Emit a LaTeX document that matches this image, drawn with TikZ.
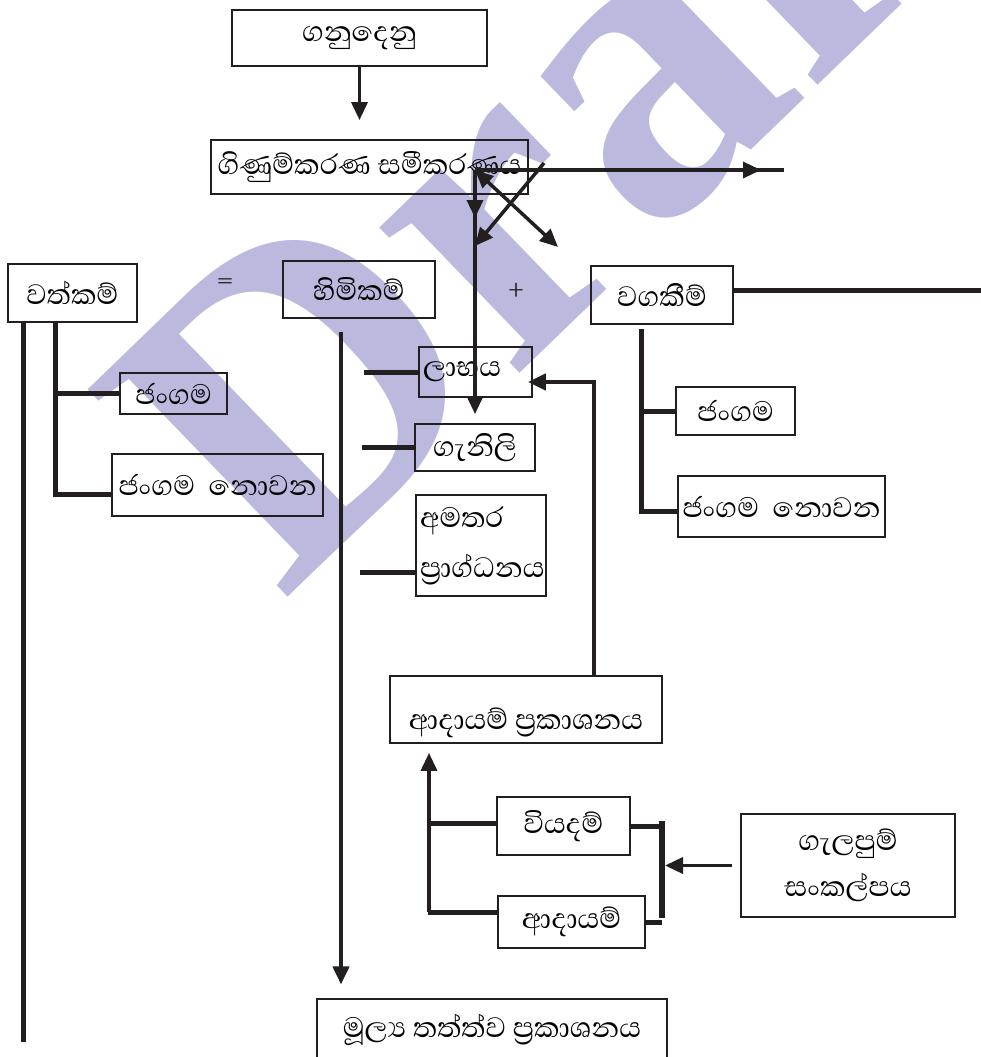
\documentclass[tikz,border=0pt]{standalone}
\usepackage{fontspec}
\setmainfont[Script=Sinhala]{Abhaya Libre}
\newfontfamily\wmfont{Liberation Serif}
\usetikzlibrary{arrows.meta}
\definecolor{ink}{RGB}{35,31,32}
\definecolor{wmark}{RGB}{187,185,221}
\tikzset{
box/.style={draw=ink, line width=1.8pt, inner xsep=4pt, inner ysep=2pt, font=\fontsize{36}{46}\selectfont},
thinbox/.style={box, line width=1.1pt},
leftbox/.style={box, align=left, text width=#1},
arr/.style={draw=ink, line width=3.5pt, -{Triangle[length=18pt,width=16pt]}},
arrs/.style={draw=ink, line width=3.5pt, {Triangle[length=18pt,width=16pt]}-{Triangle[length=18pt,width=16pt]}},
wire/.style={draw=ink, line width=3.5pt},
stub/.style={draw=ink, line width=5pt},
sign/.style={font=\fontsize{36}{46}\selectfont, text=ink}
}
\begin{document}
\begin{tikzpicture}[x=1pt, y=-1pt]
  \useasboundingbox (0,0) rectangle (981,1057);
  \clip (0,0) rectangle (981,1057);
  \node[text=wmark, rotate=44, anchor=base west, font=\wmfont\bfseries\fontsize{440}{440}\selectfont] (wm) at (280,605) {Draft};

  \node[thinbox, minimum width=255pt, minimum height=56pt] (gnd) at (359.5,38) {ගනුදෙනු};
  \node[box, minimum width=317pt, minimum height=54pt] (eqn) at (369.5,167) {ගිණුම්කරණ සමීකරණය};
  \node[box, minimum width=129pt, minimum height=58pt] (asset) at (72.5,293) {වත්කම්};
  \node[sign] (eqsign) at (225,284) {=};
  \node[box, minimum width=152pt, minimum height=57pt] (equity) at (359,289.5) {හිමිකම්};
  \node[sign] (plussign) at (516,291) {+};
  \node[box, minimum width=142pt, minimum height=58pt] (liab) at (662,295) {වගකීම්};
  \node[box, minimum width=107pt, minimum height=41pt] (acur) at (173.5,393.5) {ජංගම};
  \node[box, minimum width=211pt, minimum height=62pt] (anon) at (217.5,485) {ජංගම\ \ නොවන};
  \node[leftbox=105pt, minimum height=50pt] (profit) at (475.5,372) {ලාභය};
  \node[box, minimum width=120pt, minimum height=47pt] (drawings) at (475,447.5) {ගැනිලි};
  \node[leftbox=122pt, minimum height=101pt, font=\fontsize{36}{50}\selectfont] (capital) at (481,545.5) {අමතර\\ප්^^^^200dරාග්ධනය};
  \node[thinbox, minimum width=119pt, minimum height=48pt] (lcur) at (735.5,411) {ජංගම};
  \node[thinbox, minimum width=207pt, minimum height=61pt] (lnon) at (781.5,506.5) {ජංගම\ \ නොවන};
  \node[box, minimum width=272pt, minimum height=67pt, text height=50pt, text depth=10pt] (istmt) at (526,709.5) {ආදායම්\ ප්^^^^200dරකාශනය};
  \node[box, minimum width=133pt, minimum height=58pt] (expense) at (563.5,826) {වියදම්};
  \node[box, minimum width=147pt, minimum height=52pt] (revenue) at (571.5,922) {ආදායම්};
  \node[box, minimum width=214pt, minimum height=103pt, align=center] (match) at (848,865.5) {ගැලපුම්\\සංකල්පය};
  \node[thinbox, minimum width=350pt, minimum height=62pt] (fpos) at (492,1030) {මූල්^^^^200dය\ තත්ත්ව\ ප්^^^^200dරකාශනය};

  \draw[arr, shorten >=19pt] (gnd.south) -- (gnd.south |- eqn.north);
  \coordinate (hub) at (475,170);
  \coordinate (easttip) at (761,170);
  \coordinate (eastend) at (784,170);
  \coordinate (midtip) at (475,218);
  \coordinate (crossa) at (544,163);
  \coordinate (crossb) at (475,246);
  \coordinate (crossc) at (558,247);
  \draw[wire] (hub) -- (eastend);
  \draw[arr] (hub) -- (easttip);
  \draw[arr, shorten >=9pt] (hub) -- (hub |- drawings.north);
  \draw[arr] (hub) -- (midtip);
  \draw[arrs] (hub) -- (crossc);
  \draw[arr] (crossa) -- (crossb);

  \coordinate (abot) at (23,1042);
  \coordinate (aleg) at (55,494);
  \draw[stub] (asset.south -| abot) -- (abot);
  \draw[stub] (asset.south -| aleg) |- ([yshift=-9pt]anon.west);
  \draw[stub] (aleg |- acur.west) -- (acur.west);

  \coordinate (qleg) at (341,332);
  \draw[arr, line width=4pt, shorten >=14pt] (qleg) -- (qleg |- fpos.north);
  \draw[stub] (profit.west) -- ++(-54,0);
  \draw[stub] (drawings.west) -- ++(-52,0);
  \draw[stub] ([yshift=-26.5pt]capital.west) -- ++(-55,0);

  \coordinate (iup) at (594,676);
  \draw[arr, line width=4.5pt] (istmt.north -| iup) |- ([xshift=-5pt, yshift=-10pt]profit.east);

  \coordinate (ltop) at (641,329);
  \draw[stub] ([yshift=5pt]liab.east) -- ++(250,0);
  \draw[stub] (ltop) |- ([yshift=-5pt]lnon.west);
  \draw[stub] (ltop |- lcur.west) -- (lcur.west);

  \coordinate (ileg) at (429,912);
  \draw[arr, shorten >=9pt] (ileg) -- (ileg |- istmt.south);
  \draw[stub] ([yshift=3pt]expense.west) -- ([yshift=3pt]expense.west -| ileg);
  \draw[stub] ([yshift=10pt]revenue.west) -- ++(-69,0);

  \coordinate (bartop) at (662,821);
  \coordinate (barbot) at (662,918);
  \draw[stub, line width=6pt] (bartop) -- (barbot);
  \draw[stub] (expense.east) -- (expense.east -| bartop);
  \draw[stub] (revenue.east) -- (revenue.east -| bartop);
  \draw[arr, shorten <=8pt, shorten >=3pt] (match.west) -- (match.west -| bartop);
\end{tikzpicture}
\end{document}
